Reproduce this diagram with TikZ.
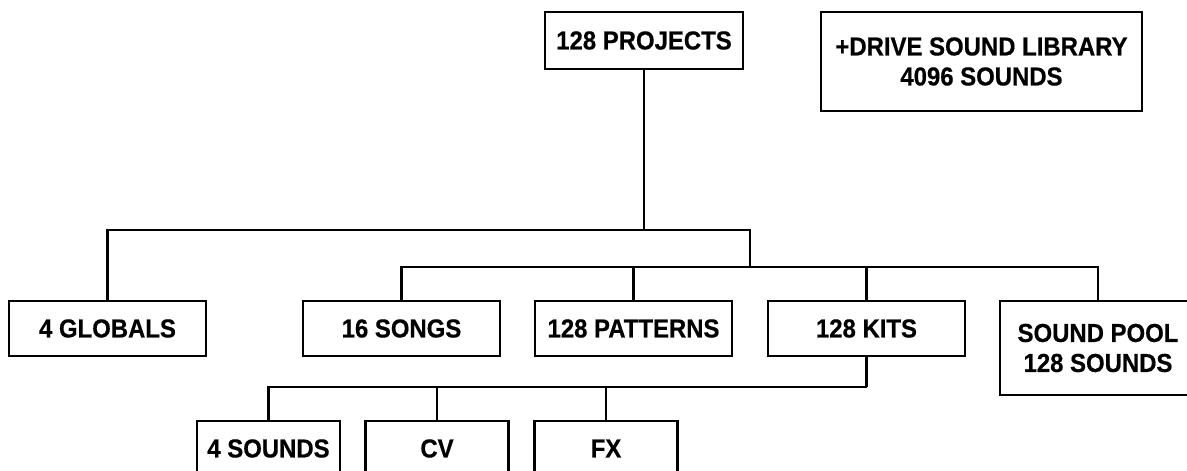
\documentclass[tikz,border=0pt]{standalone}
\usepackage{fontspec}
\setmainfont{Liberation Sans}[BoldFont={* Bold},BoldFeatures={FakeStretch=0.92,FakeBold=0.5}]
\begin{document}
\begin{tikzpicture}[x=1pt,y=-1pt,
  box/.style={draw,line width=2.4pt,rectangle,inner sep=0pt,align=center,
    font=\fontsize{26}{30}\selectfont\bfseries},
  link/.style={line width=2.4pt}]
\clip (0,0) rectangle (1187,471);
\useasboundingbox (0,0) rectangle (1187,471);
% nodes
\node[box,minimum width=198pt,minimum height=57pt] (proj) at (644,40.5) {128 PROJECTS};
\node[box,minimum width=321pt,minimum height=99pt] (drive) at (981.5,61.5) {+DRIVE SOUND LIBRARY\\4096 SOUNDS};
\node[box,minimum width=197pt,minimum height=55pt] (glob) at (107.5,328.5) {4 GLOBALS};
\node[box,minimum width=197pt,minimum height=55pt] (songs) at (401.5,328.5) {16 SONGS};
\node[box,minimum width=197pt,minimum height=55pt] (pat) at (633.5,328.5) {128 PATTERNS};
\node[box,minimum width=197pt,minimum height=55pt] (kits) at (866.5,328.5) {128 KITS};
\node[box,minimum width=196pt,minimum height=94pt] (pool) at (1098,348) {SOUND POOL\\128 SOUNDS};
\node[box,minimum width=143pt,minimum height=55pt] (snd) at (268.5,448.5) {4 SOUNDS};
\node[box,minimum width=143pt,minimum height=55pt] (cv) at (437,448.5) {CV};
\node[box,minimum width=143pt,minimum height=55pt] (fx) at (606,448.5) {FX};
% junctions
\coordinate (j1) at (750,230);
\coordinate (j2) at (750,267);
\coordinate (j3) at (866.5,387);
% connectors
\draw[link] (proj.south) -- (proj.south |- j1);
\draw[link] (glob.north) |- (j1) -- (j2);
\draw[link] (songs.north) |- (pool.north |- j2) -- (pool.north);
\draw[link] (pat.north) -- (pat.north |- j2);
\draw[link] (kits.north) -- (kits.north |- j2);
\draw[link] (kits.south) -- (j3);
\draw[link] (snd.north) |- (j3);
\draw[link] (cv.north) -- (cv.north |- j3);
\draw[link] (fx.north) -- (fx.north |- j3);
\end{tikzpicture}
\end{document}
